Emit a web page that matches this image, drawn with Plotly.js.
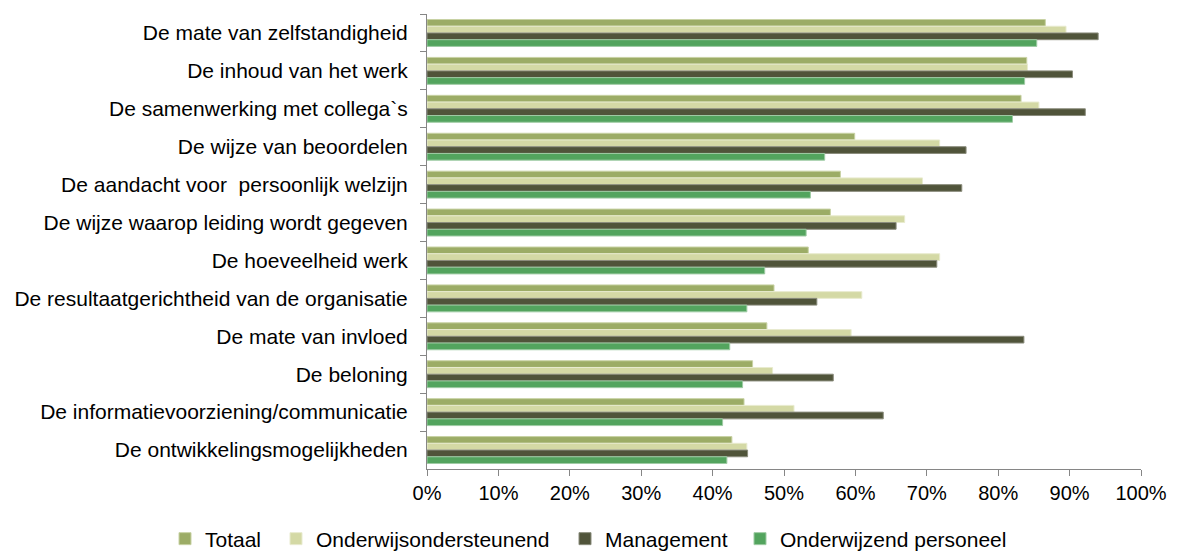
<!DOCTYPE html>
<html>
<head>
<meta charset="utf-8">
<script src="https://cdn.plot.ly/plotly-3.0.1.min.js"></script>
<style>
html,body{margin:0;padding:0;background:#fff;}
#chart{width:1178px;height:551px;}
</style>
</head>
<body>
<div id="chart"></div>
<script>
const categories = [
  "De mate van zelfstandigheid",
  "De inhoud van het werk",
  "De samenwerking met collega`s",
  "De wijze van beoordelen",
  "De aandacht voor  persoonlijk welzijn",
  "De wijze waarop leiding wordt gegeven",
  "De hoeveelheid werk",
  "De resultaatgerichtheid van de organisatie",
  "De mate van invloed",
  "De beloning",
  "De informatievoorziening/communicatie",
  "De ontwikkelingsmogelijkheden"
];
const totaal = [86.6, 84.0, 83.2, 59.9, 57.9, 56.5, 53.4, 48.6, 47.6, 45.6, 44.4, 42.7];
const onderwijsondersteunend = [89.5, 84.1, 85.7, 71.8, 69.4, 66.9, 71.8, 60.9, 59.4, 48.4, 51.4, 44.8];
const management = [94.0, 90.4, 92.2, 75.5, 74.9, 65.7, 71.4, 54.6, 83.6, 56.9, 63.9, 44.9];
const onderwijzendPersoneel = [85.4, 83.7, 82.0, 55.7, 53.7, 53.1, 47.3, 44.8, 42.4, 44.2, 41.4, 42.0];

const seriesNames = ["Totaal", "Onderwijsondersteunend", "Management", "Onderwijzend personeel"];
const seriesValues = [totaal, onderwijsondersteunend, management, onderwijzendPersoneel];
const colors = ["#9CAC66", "#D4D9A5", "#50543A", "#53A45E"];
const lineColors = ["#C8D2A4", "#E8EBCF", "#8A8C7C", "#9FCBA4"];
// legend layout: which legend box each series goes in, and its entry width (px)
const legendIds = ["legend", "legend", "legend2", "legend2"];
const legendEntryPx = [66, 0, 130, 0];

const traces = seriesNames.map((name, i) => {
  const t = {
    type: "bar",
    orientation: "h",
    name: name,
    y: categories,
    x: seriesValues[i],
    legend: legendIds[i],
    marker: {color: colors[i], line: {color: lineColors[i], width: 1}},
    hoverinfo: "x+y+name"
  };
  if (legendEntryPx[i] > 0) t.legendwidth = legendEntryPx[i];
  return t;
});

const fam = "Liberation Sans, Arial, sans-serif";
const catFont = {family: fam, size: 21, color: "#000"};
const tickFont = {family: fam, size: 20, color: "#000"};
const legFont = {family: fam, size: 21, color: "#000"};

function legendBox(xPx) {
  return {
    orientation: "h",
    xref: "container", yref: "container",
    x: xPx / 1178, xanchor: "left",
    y: (551 - 539) / 551, yanchor: "middle",
    font: legFont,
    traceorder: "normal",
    entrywidthmode: "pixels",
    itemwidth: 30,
    bgcolor: "rgba(0,0,0,0)"
  };
}

const layout = {
  width: 1178,
  height: 551,
  margin: {l: 427, r: 37, t: 14, b: 82, pad: 0},
  paper_bgcolor: "#fff",
  plot_bgcolor: "#fff",
  font: catFont,
  barmode: "group",
  bargap: 0.29,
  bargroupgap: 0,
  showlegend: true,
  legend: legendBox(165),
  legend2: legendBox(565),
  xaxis: {
    range: [0, 100],
    dtick: 10,
    ticksuffix: "%",
    showgrid: false,
    zeroline: false,
    showline: true,
    linecolor: "#868686",
    linewidth: 1,
    ticks: "outside",
    ticklen: 6,
    tickcolor: "#868686",
    tickfont: tickFont,
    ticklabelstandoff: 0,
    fixedrange: true
  },
  yaxis: {
    type: "category",
    autorange: "reversed",
    showgrid: false,
    zeroline: false,
    showline: true,
    linecolor: "#868686",
    linewidth: 1,
    ticks: "outside",
    tickson: "boundaries",
    ticklen: 6,
    tickcolor: "#868686",
    tickfont: catFont,
    ticklabelstandoff: 14,
    fixedrange: true
  }
};

Plotly.newPlot("chart", traces, layout, {displayModeBar: false, staticPlot: true});
</script>
</body>
</html>
